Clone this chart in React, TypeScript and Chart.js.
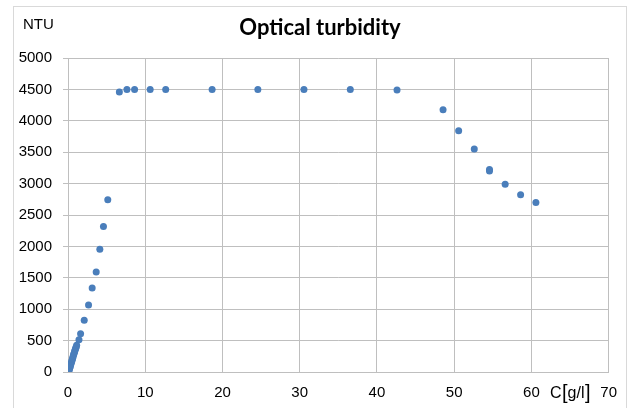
import React, { useEffect, useRef } from 'react';
import { Chart, registerables } from 'chart.js';

Chart.register(...registerables);

// Concentration C [g/l]
const concentration: number[] = [
  0.1, 0.16, 0.22, 0.27, 0.33, 0.38, 0.44, 0.5, 0.55, 0.6, 0.66, 0.71, 0.77, 0.83, 0.88, 0.94, 1.0, 1.06, 1.12,
  1.42, 1.63, 2.1, 2.66, 3.13, 3.65, 4.12, 4.59, 5.15,
  6.65, 7.63, 8.62, 10.64, 12.65, 18.66, 24.58, 30.55, 36.55, 42.6,
  48.56, 50.58, 52.6, 54.57, 54.57, 56.6, 58.6, 60.58,
];

// Optical turbidity [NTU]
const turbidity: number[] = [
  10, 35, 60, 85, 105, 130, 150, 175, 200, 220, 245, 270, 290, 315, 335, 360, 380, 400, 425,
  515, 610, 824, 1068, 1339, 1594, 1955, 2316, 2741,
  4457, 4500, 4500, 4500, 4500, 4500, 4500, 4500, 4500, 4490,
  4175, 3841, 3549, 3200, 3225, 2991, 2821, 2698,
];

const TITLE = 'Optical turbidity';
const Y_UNIT = 'NTU';
const X_UNIT_PARTS = ['C', '[', 'g/l', ']'];

const FONT = '"Liberation Sans", Arial, sans-serif';

const textPlugin = {
  id: 'texts',
  beforeDraw(chart: any) {
    const ctx = chart.ctx;
    ctx.save();
    ctx.fillStyle = '#ffffff';
    ctx.fillRect(0, 0, chart.width, chart.height);
    ctx.strokeStyle = '#D9D9D9';
    ctx.lineWidth = 1;
    ctx.strokeRect(13.5, 6.5, 613, 420);
    ctx.restore();
  },
  afterDraw(chart: any) {
    const ctx = chart.ctx;
    ctx.save();
    ctx.fillStyle = '#000000';
    ctx.textBaseline = 'middle';
    ctx.textAlign = 'center';
    ctx.font = `bold 22px Lato, ${FONT}`;
    ctx.fillText(TITLE, 320, 28);
    ctx.textAlign = 'left';
    ctx.font = `15px ${FONT}`;
    ctx.fillText(Y_UNIT, 23, 25);
    // x unit, with taller brackets
    let x = 550;
    X_UNIT_PARTS.forEach((p) => {
      const bracket = p === '[' || p === ']';
      ctx.font = bracket ? `20px ${FONT}` : `16px ${FONT}`;
      ctx.fillText(p, x, bracket ? 393 : 394);
      x += ctx.measureText(p).width + (bracket ? 0 : 0.5);
    });
    ctx.restore();
  },
};

export default function App() {
  const ref = useRef<HTMLCanvasElement | null>(null);

  useEffect(() => {
    document.body.style.margin = '0';
    const canvas = ref.current;
    if (!canvas) return;
    const points = concentration.map((x, i) => ({ x, y: turbidity[i] }));
    const chart = new Chart(canvas, {
      type: 'scatter',
      data: {
        datasets: [
          {
            label: 'NTU',
            data: points,
            backgroundColor: '#4A7EBB',
            borderColor: '#4A7EBB',
            borderWidth: 0,
            pointRadius: 3.5,
          },
        ],
      },
      options: {
        responsive: false,
        animation: false,
        devicePixelRatio: 1,
        layout: { padding: { top: 58, right: 19, left: 0, bottom: 0 } },
        plugins: {
          legend: { display: false },
          title: { display: false },
          tooltip: { enabled: false },
        },
        scales: {
          x: {
            type: 'linear',
            min: 0,
            max: 70,
            afterFit: (s: any) => {
              s.height = 36;
            },
            ticks: {
              stepSize: 10,
              padding: 12,
              color: '#000000',
              font: { family: FONT, size: 15 },
              maxRotation: 0,
              callback: (v: any) => String(v),
            },
            grid: { color: '#BFBFBF', drawTicks: false, lineWidth: 1 },
            border: { display: true, color: '#BFBFBF' },
          },
          y: {
            type: 'linear',
            min: 0,
            max: 5000,
            afterFit: (s: any) => {
              s.width = 68;
            },
            ticks: {
              stepSize: 500,
              padding: 11,
              color: '#000000',
              font: { family: FONT, size: 15 },
              callback: (v: any) => String(v),
            },
            grid: { color: '#BFBFBF', drawTicks: true, tickLength: 5, lineWidth: 1 },
            border: { display: true, color: '#BFBFBF' },
          },
        },
      },
      plugins: [textPlugin],
    });
    return () => chart.destroy();
  }, []);

  return (
    <div style={{ position: 'fixed', left: 0, top: 0, width: 629, height: 408 }}>
      <canvas ref={ref} width={629} height={408} style={{ width: 629, height: 408, display: 'block' }} />
    </div>
  );
}
